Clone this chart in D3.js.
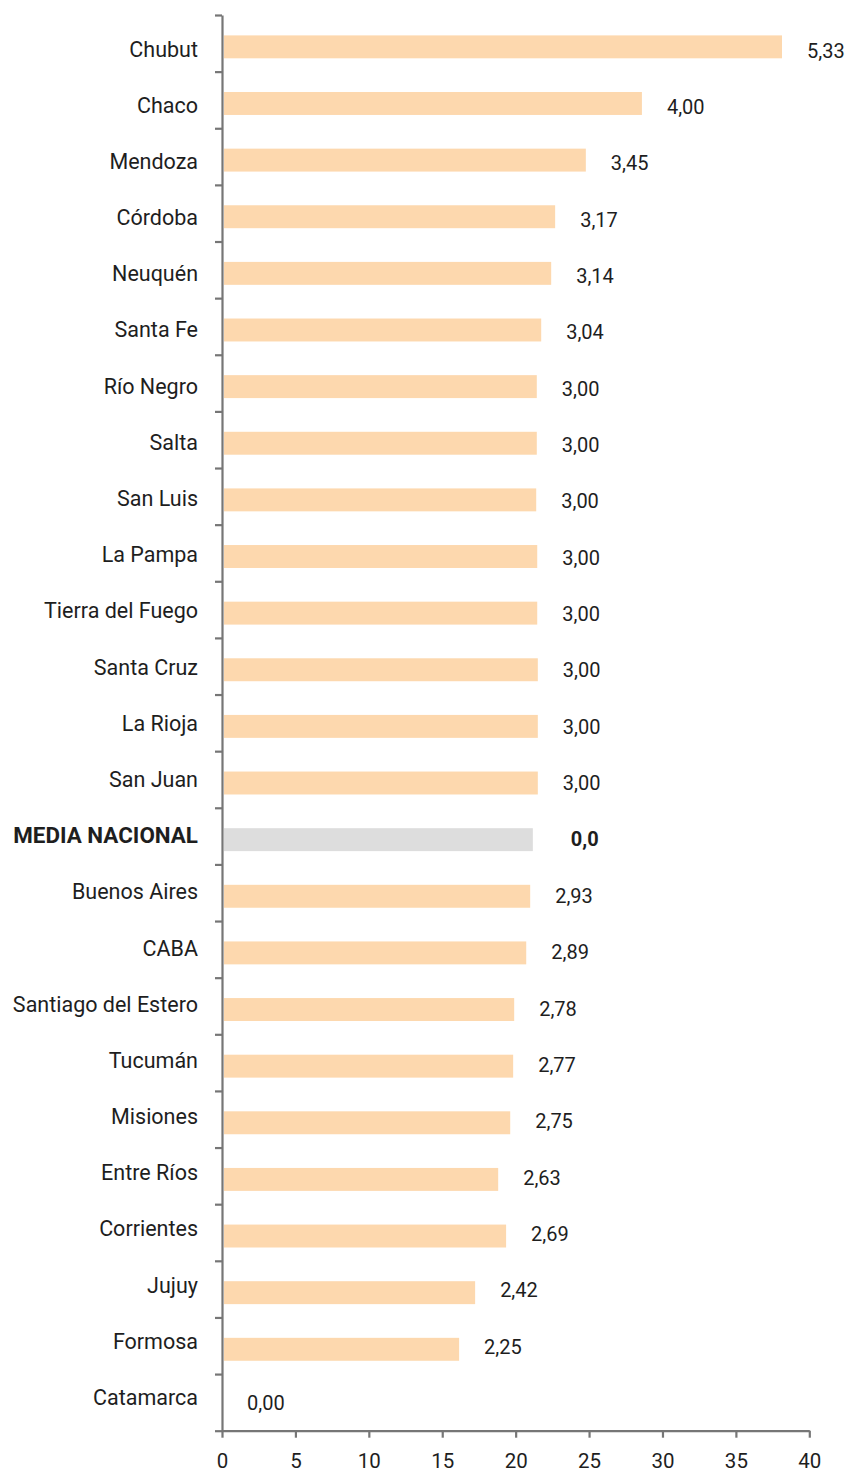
<!DOCTYPE html>
<html>
<head>
<meta charset="utf-8">
<script src="https://cdn.jsdelivr.net/npm/d3@7"></script>
<style>
  html, body { margin: 0; padding: 0; background: #fff; }
  svg { display: block; font-family: Roboto, "Noto Sans", sans-serif; }
</style>
</head>
<body>
<svg id="chart" width="850" height="1472"></svg>
<script>
// ---- Data ----
const categories = ["Chubut","Chaco","Mendoza","Córdoba","Neuquén","Santa Fe","Río Negro","Salta","San Luis","La Pampa","Tierra del Fuego","Santa Cruz","La Rioja","San Juan","MEDIA NACIONAL","Buenos Aires","CABA","Santiago del Estero","Tucumán","Misiones","Entre Ríos","Corrientes","Jujuy","Formosa","Catamarca"];
const barValues = [38.14,28.6,24.78,22.69,22.42,21.74,21.44,21.44,21.40,21.47,21.47,21.51,21.51,21.51,21.17,20.99,20.72,19.90,19.83,19.63,18.81,19.35,17.24,16.15,0];
const valueLabels = ["5,33","4,00","3,45","3,17","3,14","3,04","3,00","3,00","3,00","3,00","3,00","3,00","3,00","3,00","0,0","2,93","2,89","2,78","2,77","2,75","2,63","2,69","2,42","2,25","0,00"];
const highlight = "MEDIA NACIONAL";
const xTicks = [0,5,10,15,20,25,30,35,40];

// ---- Layout ----
const svg = d3.select("#chart");
const plotTop = 15, plotBottom = 1430.7, plotLeft = 222, plotRight = 809.3;
const textColor = "#1e1e1e";
const axisColor = "#767676";

const x = d3.scaleLinear().domain([0, 40]).range([plotLeft, plotRight]);
const y = d3.scaleBand().domain(categories).range([plotTop, plotBottom]).padding(0);
const yEdges = d3.scaleLinear().domain([0, categories.length]).range([plotTop, plotBottom]);
const yCatLabel = d3.scalePoint().domain(categories).range([49, 1397.5]);
const yValLabel = d3.scalePoint().domain(categories).range([50.5, 1403]);

const bw = y.bandwidth();

// Bars
svg.append("g").selectAll("rect")
  .data(categories)
  .join("rect")
  .attr("x", x(0) + 2)
  .attr("y", d => y(d) + bw * 0.36)
  .attr("width", (d, i) => Math.max(0, x(barValues[i]) - x(0) - 2))
  .attr("height", bw * 0.405)
  .attr("fill", d => d === highlight ? "#dddddd" : "#fdd8ae");

// Y axis (ticks at band boundaries)
const yAxis = svg.append("g")
  .attr("transform", `translate(${plotLeft},0)`)
  .call(d3.axisLeft(yEdges).tickValues(d3.range(categories.length + 1)).tickFormat("").tickSize(7).tickSizeOuter(0));
yAxis.selectAll("path, line").attr("stroke", axisColor).attr("stroke-width", 2.2);

// X axis
const xAxis = svg.append("g")
  .attr("transform", `translate(0,${plotBottom})`)
  .call(d3.axisBottom(x).tickValues(xTicks).tickSize(7).tickSizeOuter(0));
xAxis.selectAll("path, line").attr("stroke", axisColor).attr("stroke-width", 2.2);
xAxis.selectAll("text")
  .attr("y", 30).attr("dy", "0.35em")
  .attr("fill", textColor)
  .style("font-size", "20.5px")
  .style("font-family", "Roboto, sans-serif");

// Category labels
svg.append("g").selectAll("text")
  .data(categories)
  .join("text")
  .attr("x", 198)
  .attr("y", d => yCatLabel(d))
  .attr("dy", "0.35em")
  .attr("text-anchor", "end")
  .attr("fill", textColor)
  .style("font-size", d => d === highlight ? "22.4px" : "21.5px")
  .style("font-weight", d => d === highlight ? 700 : 400)
  .text(d => d);

// Value labels
svg.append("g").selectAll("text")
  .data(categories)
  .join("text")
  .attr("x", (d, i) => x(barValues[i]) + (d === highlight ? 38 : 25))
  .attr("y", d => yValLabel(d))
  .attr("dy", "0.35em")
  .attr("text-anchor", "start")
  .attr("fill", textColor)
  .style("font-size", "20px")
  .style("font-weight", d => d === highlight ? 700 : 400)
  .text((d, i) => valueLabels[i]);
</script>
</body>
</html>
